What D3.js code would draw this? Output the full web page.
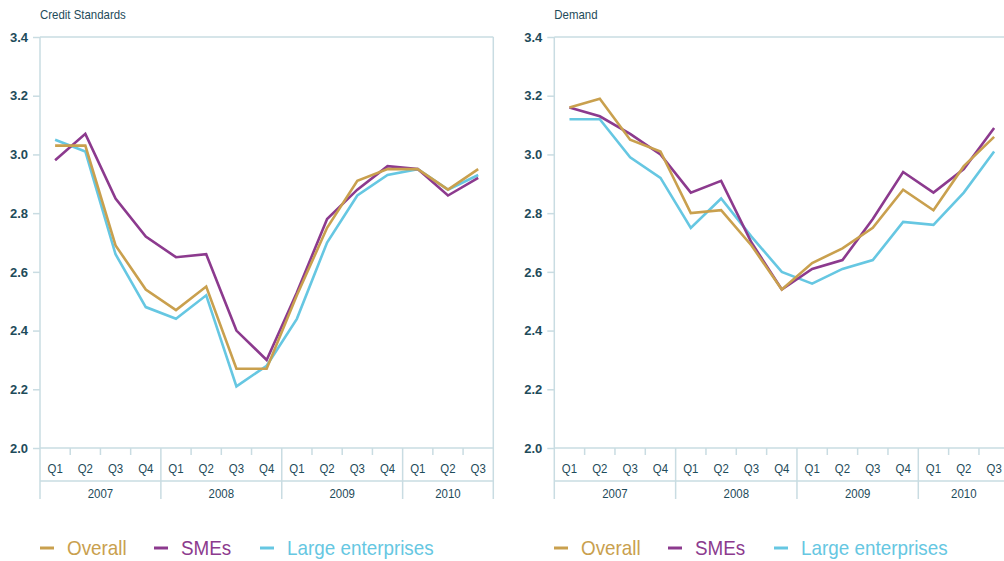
<!DOCTYPE html>
<html><head><meta charset="utf-8">
<script src="https://cdn.jsdelivr.net/npm/d3@7"></script>
<style>
body{margin:0;background:#fff;}
svg text{font-family:"Liberation Sans Narrow","Arial Narrow","Liberation Sans",sans-serif;}
</style></head><body>
<svg id="c" width="1004" height="561"></svg>
<script>
const years = ["2007","2008","2009","2010"];
const quarters = ["Q1","Q2","Q3","Q4","Q1","Q2","Q3","Q4","Q1","Q2","Q3","Q4","Q1","Q2","Q3"];
const periods = quarters.map((q,i)=>years[Math.floor(i/4)]+" "+q);
const yTicks = [2.0,2.2,2.4,2.6,2.8,3.0,3.2,3.4];
const seriesNames = ["Overall","SMEs","Large enterprises"];
const seriesColors = ["#C9A04E","#8C3A8E","#66C7E2"];

const creditOverall = [3.03,3.03,2.69,2.54,2.47,2.55,2.27,2.27,2.52,2.75,2.91,2.95,2.95,2.88,2.95];
const creditSMEs    = [2.98,3.07,2.85,2.72,2.65,2.66,2.40,2.30,2.53,2.78,2.88,2.96,2.95,2.86,2.92];
const creditLarge   = [3.05,3.01,2.66,2.48,2.44,2.52,2.21,2.28,2.44,2.70,2.86,2.93,2.95,2.88,2.93];

const demandOverall = [3.16,3.19,3.05,3.01,2.80,2.81,2.69,2.54,2.63,2.68,2.75,2.88,2.81,2.96,3.06];
const demandSMEs    = [3.16,3.13,3.07,3.00,2.87,2.91,2.70,2.54,2.61,2.64,2.78,2.94,2.87,2.95,3.09];
const demandLarge   = [3.12,3.12,2.99,2.92,2.75,2.85,2.72,2.60,2.56,2.61,2.64,2.77,2.76,2.87,3.01];

const svg = d3.select("#c");
const axisColor = "#C9DCE2";
const textColor = "#1E4B5A";

function narrowText(sel, x, y, s, size, fill, anchor, sx){
  return sel.append("text").attr("transform", `translate(${x},${y}) scale(${sx||0.88},1)`)
    .attr("font-size", size).attr("fill", fill).attr("text-anchor", anchor||"start").text(s);
}

function panel(x0, width, title, data){
  const g = svg.append("g");
  const top = 37, bottom = 448, catLine = 481, base = 499;
  const x = d3.scaleBand().domain(periods).range([x0, x0+width]).paddingInner(0).paddingOuter(0);
  const y = d3.scaleLinear().domain([2.0,3.4]).range([bottom, top]);
  const bw = x.bandwidth();

  narrowText(g, x0, 19, title, 13, textColor);

  g.append("line").attr("x1", x0).attr("x2", x0+width).attr("y1", top).attr("y2", top)
    .attr("stroke", axisColor).attr("stroke-width", 1.5);
  g.append("line").attr("x1", x0+width).attr("x2", x0+width).attr("y1", top).attr("y2", base)
    .attr("stroke", axisColor).attr("stroke-width", 1.5);

  const ya = d3.axisLeft(y).tickValues(yTicks).tickFormat(d3.format(".1f")).tickSize(7).tickPadding(5);
  const yg = g.append("g").attr("transform", `translate(${x0},0)`).call(ya);
  yg.select(".domain").remove();
  yg.selectAll("line").attr("stroke", axisColor).attr("stroke-width", 1.5);
  yg.selectAll("text").attr("fill", textColor).attr("font-size", 13).attr("font-weight", "bold")
    .attr("font-family", "'Liberation Sans Narrow','Arial Narrow',sans-serif");
  g.append("line").attr("x1", x0).attr("x2", x0).attr("y1", top).attr("y2", base)
    .attr("stroke", axisColor).attr("stroke-width", 1.5);

  g.append("line").attr("x1", x0).attr("x2", x0+width).attr("y1", bottom).attr("y2", bottom)
    .attr("stroke", axisColor).attr("stroke-width", 1.5);
  g.append("line").attr("x1", x0).attr("x2", x0+width).attr("y1", catLine).attr("y2", catLine)
    .attr("stroke", axisColor).attr("stroke-width", 1.5);
  periods.forEach((p,i)=>{
    if(i>0){
      const xx = x(p);
      const isYear = i%4===0;
      g.append("line").attr("x1", xx).attr("x2", xx).attr("y1", bottom).attr("y2", isYear?base:bottom+7)
        .attr("stroke", axisColor).attr("stroke-width", 1.5);
    }
    narrowText(g, x(p)+bw/2, 472.5, quarters[i], 13, textColor, "middle");
  });
  years.forEach((yr)=>{
    const idx = periods.filter(p=>p.startsWith(yr));
    const xs = x(idx[0]), xe = x(idx[idx.length-1])+bw;
    narrowText(g, (xs+xe)/2, 497.5, yr, 13, textColor, "middle");
  });

  const line = d3.line().x((d,i)=>x(periods[i])+bw/2).y(d=>y(d));
  [2,1,0].forEach(k=>{
    g.append("path").datum(data[k]).attr("d", line).attr("fill","none")
      .attr("stroke", seriesColors[k]).attr("stroke-width", 2.6).attr("stroke-linejoin","miter");
  });
}

panel(40, 453.3, "Credit Standards", [creditOverall, creditSMEs, creditLarge]);
panel(554.3, 455, "Demand", [demandOverall, demandSMEs, demandLarge]);

function legend(x0){
  const offs = [0, 114, 220];
  const g = svg.append("g");
  seriesNames.forEach((n,i)=>{
    g.append("line").attr("x1", x0+offs[i]).attr("x2", x0+offs[i]+14).attr("y1", 548).attr("y2", 548)
      .attr("stroke", seriesColors[i]).attr("stroke-width", 3);
    narrowText(g, x0+offs[i]+27, 555, n, 20.5, seriesColors[i], "start", 0.92);
  });
}
legend(40);
legend(554);
</script>
</body></html>
